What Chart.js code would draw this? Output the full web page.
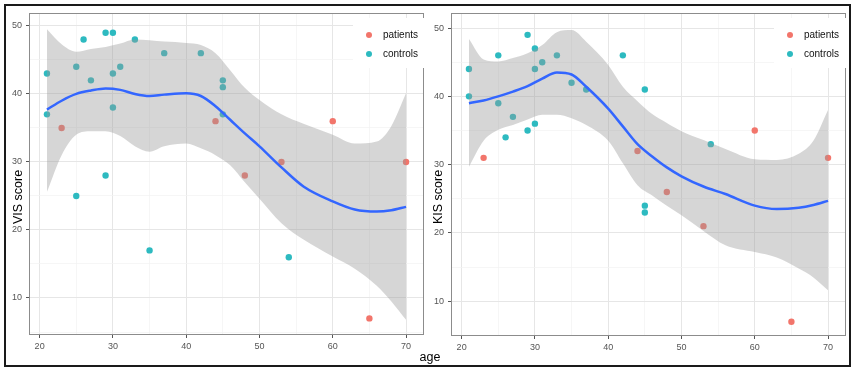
<!DOCTYPE html>
<html>
<head>
<meta charset="utf-8">
<script src="https://cdn.jsdelivr.net/npm/chart.js@4.4.1/dist/chart.umd.min.js"></script>
<style>
  body { margin: 0; width: 856px; height: 372px; background: #fff; position: relative; overflow: hidden;
         font-family: "Liberation Sans", Arial, sans-serif; }
  canvas { position: absolute; top: 0; }
  #frame { position: absolute; left: 4px; top: 4px; width: 843px; height: 359px; border: 2px solid #1a1a1a; pointer-events: none; }
  .ytitle { position: absolute; font-size: 12.5px; color: #000; white-space: nowrap;
            transform: translate(-50%, -50%) rotate(-90deg); }
  .xtitle { position: absolute; font-size: 12.5px; color: #000; white-space: nowrap; transform: translate(-50%, -50%); }
  .legbox { position: absolute; background: #fff; width: 72px; height: 50px; top: 18px; }
  .dot { position: absolute; width: 6px; height: 6px; border-radius: 50%; }
  .legtxt { position: absolute; font-size: 10px; line-height: 12px; color: #111; }
</style>
</head>
<body>
<canvas id="visChart" width="428" height="372" style="left:0"></canvas>
<canvas id="kisChart" width="428" height="372" style="left:428px"></canvas>
<div id="frame"></div>

<div class="ytitle" style="left:18px;top:197px">VIS score</div>
<div class="ytitle" style="left:438px;top:197px">KIS score</div>
<div class="xtitle" style="left:430px;top:357px">age</div>

<div class="legbox" style="left:353px"></div>
<div class="dot" style="left:366px;top:32px;background:#F2756B"></div>
<div class="legtxt" style="left:383px;top:29px">patients</div>
<div class="dot" style="left:366px;top:51px;background:#2DBAC0"></div>
<div class="legtxt" style="left:383px;top:48px">controls</div>

<div class="legbox" style="left:774px"></div>
<div class="dot" style="left:787px;top:32px;background:#F2756B"></div>
<div class="legtxt" style="left:804px;top:29px">patients</div>
<div class="dot" style="left:787px;top:51px;background:#2DBAC0"></div>
<div class="legtxt" style="left:804px;top:48px">controls</div>

<script>
// observed points
const patientAge = [23, 44, 48, 53, 60, 65, 70];
const patientVIS = [35, 36, 28, 30, 36, 7, 30];
const patientKIS = [31, 32, 26, 21, 35, 7, 31];

const controlAge = [21, 21, 25, 25, 26, 27, 29, 29, 30, 30, 30, 31, 33, 35, 37, 42, 45, 45, 45, 54];
const controlVIS = [43, 37, 44, 25, 48, 42, 49, 28, 49, 43, 38, 44, 48, 17, 46, 46, 42, 41, 37, 16];
const controlKIS = [44, 40, 46, 39, 34, 37, 49, 35, 47, 44, 36, 45, 46, 42, 41, 46, 41, 24, 23, 33];

// loess fit and its confidence band
const fitAge = [21, 23, 25, 27, 29, 31, 33, 35, 37, 40, 42, 44, 46, 48, 50, 53, 56, 60, 63, 66, 68, 70];

const visFit   = [37.7, 39.0, 40.0, 40.5, 40.8, 40.6, 40.0, 39.7, 39.9, 40.1, 39.7, 38.2, 36.2, 34.2, 32.3, 29.2, 26.4, 24.2, 23.0, 22.7, 22.9, 23.4];
const visUpper = [49.5, 47.3, 46.2, 46.6, 46.9, 47.4, 48.0, 47.9, 47.7, 47.5, 47.2, 46.0, 43.5, 40.9, 39.1, 37.0, 35.6, 34.0, 32.7, 33.0, 35.3, 40.1];
const visLower = [25.6, 31.0, 34.0, 34.5, 34.5, 33.8, 32.3, 31.5, 32.3, 32.7, 32.0, 31.0, 29.5, 27.0, 24.6, 21.0, 18.6, 16.1, 14.3, 11.8, 9.5, 6.8];

const kisFit   = [39.0, 39.4, 40.0, 40.7, 41.5, 42.6, 43.5, 43.2, 41.4, 38.2, 35.6, 33.0, 31.2, 29.6, 28.3, 26.8, 25.7, 24.0, 23.5, 23.7, 24.1, 24.7];
const kisUpper = [48.4, 45.4, 45.1, 45.6, 46.3, 47.5, 49.4, 49.7, 48.0, 44.6, 41.4, 39.3, 37.4, 36.1, 34.9, 33.6, 32.3, 30.8, 30.7, 31.6, 33.5, 38.0];
const kisLower = [29.7, 33.5, 35.1, 35.8, 36.6, 37.3, 37.3, 36.8, 35.8, 33.5, 30.2, 27.0, 25.5, 24.0, 22.6, 20.3, 18.2, 17.2, 16.4, 14.8, 13.5, 11.6];

const xTicks = [20, 25, 30, 35, 40, 45, 50, 55, 60, 65, 70];
const yTicks = [5, 10, 15, 20, 25, 30, 35, 40, 45, 50];

const toXY = (xs, ys) => xs.map((x, i) => ({ x: x, y: ys[i] }));
const isMajor = v => v % 10 === 0;

const panelBorder = {
    id: 'panelBorder',
    afterDraw(chart) {
        const a = chart.chartArea;
        const c = chart.ctx;
        c.save();
        c.strokeStyle = '#8c8c8c';
        c.lineWidth = 1;
        c.strokeRect(a.left + 0.5, a.top + 0.5, a.right - a.left - 1, a.bottom - a.top - 1);
        c.restore();
    }
};

function gridOpts() {
    return {
        color: c => isMajor(c.tick.value) ? '#e6e6e6' : '#f2f2f2',
        lineWidth: c => isMajor(c.tick.value) ? 1 : 0.7,
        tickLength: 3,
        tickColor: c => isMajor(c.tick.value) ? '#555' : 'rgba(0,0,0,0)',
        tickWidth: 1
    };
}

function buildChart(id, o) {
    new Chart(document.getElementById(id), {
        type: 'scatter',
        data: {
            datasets: [
                {
                    type: 'line', label: 'fit', data: toXY(fitAge, o.fit),
                    borderColor: '#3366FF', borderWidth: 2.5, pointRadius: 0,
                    cubicInterpolationMode: 'monotone', fill: false, order: 0
                },
                {
                    type: 'line', label: 'upper', data: toXY(fitAge, o.upper),
                    borderWidth: 0, borderColor: 'rgba(0,0,0,0)', pointRadius: 0,
                    cubicInterpolationMode: 'monotone', fill: '+1',
                    backgroundColor: 'rgba(153,153,153,0.4)', order: 1
                },
                {
                    type: 'line', label: 'lower', data: toXY(fitAge, o.lower),
                    borderWidth: 0, borderColor: 'rgba(0,0,0,0)', pointRadius: 0,
                    cubicInterpolationMode: 'monotone', fill: false, order: 1
                },
                {
                    label: 'patients', data: toXY(patientAge, o.patients),
                    backgroundColor: '#F2756B', borderWidth: 0, pointRadius: 3.2, order: 2
                },
                {
                    label: 'controls', data: toXY(controlAge, o.controls),
                    backgroundColor: '#2DBAC0', borderWidth: 0, pointRadius: 3.2, order: 2
                }
            ]
        },
        options: {
            responsive: false,
            animation: false,
            layout: { padding: { left: 0, top: 13, right: o.padRight, bottom: 0 } },
            plugins: { legend: { display: false }, tooltip: { enabled: false } },
            scales: {
                x: {
                    type: 'linear', min: 18.55, max: 72.45,
                    afterBuildTicks: s => { s.ticks = xTicks.map(v => ({ value: v })); },
                    afterFit: s => { s.height = o.xAxisHeight; },
                    ticks: {
                        callback: v => isMajor(v) ? v : '',
                        color: '#555', font: { size: 9, family: 'Liberation Sans' },
                        padding: 3, maxRotation: 0, autoSkip: false
                    },
                    grid: gridOpts(),
                    border: { display: false }
                },
                y: {
                    type: 'linear', min: o.yMin, max: o.yMax,
                    afterBuildTicks: s => { s.ticks = yTicks.filter(v => v >= o.yMin && v <= o.yMax).map(v => ({ value: v })); },
                    afterFit: s => { s.width = o.yAxisWidth; },
                    ticks: {
                        callback: v => isMajor(v) ? v : '',
                        color: '#555', font: { size: 9, family: 'Liberation Sans' },
                        padding: 4, autoSkip: false
                    },
                    grid: gridOpts(),
                    border: { display: false }
                }
            }
        },
        plugins: [panelBorder]
    });
}

buildChart('visChart', {
    fit: visFit, upper: visUpper, lower: visLower,
    patients: patientVIS, controls: controlVIS,
    yMin: 4.56, yMax: 51.9,
    padRight: 3, yAxisWidth: 29, xAxisHeight: 37
});

buildChart('kisChart', {
    fit: kisFit, upper: kisUpper, lower: kisLower,
    patients: patientKIS, controls: controlKIS,
    yMin: 4.92, yMax: 52.2,
    padRight: 10, yAxisWidth: 23, xAxisHeight: 36
});
</script>
</body>
</html>
